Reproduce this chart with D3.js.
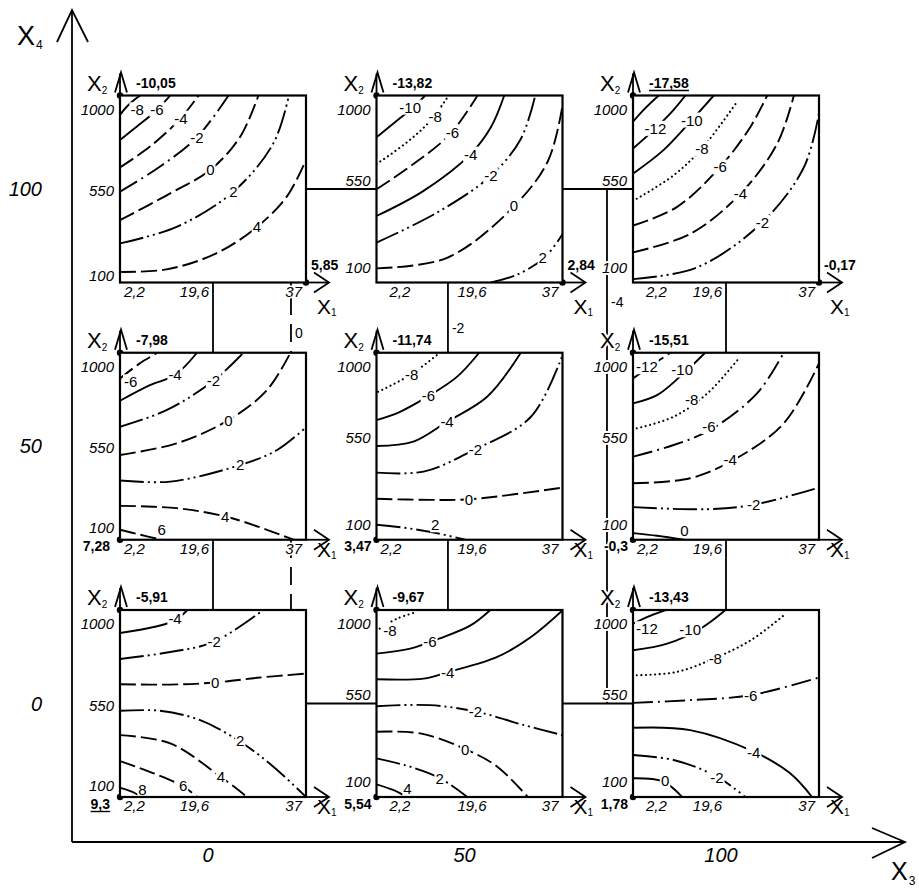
<!DOCTYPE html>
<html><head><meta charset="utf-8">
<script src="https://cdn.jsdelivr.net/npm/d3@7"></script>
<style>
body{margin:0;background:#fff;}
svg{display:block;font-family:"Liberation Sans",Arial,sans-serif;}
</style></head><body>
<svg id="chart" width="919" height="889"></svg>
<script>
// ---------------- DATA ----------------
const X3Values = [0, 50, 100];
const X4Values = [100, 50, 0];
const X3TickLabels = ["0", "50", "100"];
const X4TickLabels = ["100", "50", "0"];
const X1Ticks = [2.2, 19.6, 37];
const X1TickLabels = ["2,2", "19,6", "37"];
const X2Ticks = [100, 550, 1000];
const X2TickLabels = ["100", "550", "1000"];

// panels, row-major (X4 = 100, 50, 0; X3 = 0, 50, 100)
const panelX3 = [0, 50, 100, 0, 50, 100, 0, 50, 100];
const panelX4 = [100, 100, 100, 50, 50, 50, 0, 0, 0];
const panelMinValue = [-10.05, -13.82, -17.58, -7.98, -11.74, -15.51, -5.91, -9.67, -13.43];
const panelMinX1 = [2.2, 2.2, 2.2, 2.2, 2.2, 2.2, 2.2, 2.2, 2.2];
const panelMinX2 = [1000, 1000, 1000, 1000, 1000, 1000, 1000, 1000, 1000];
const panelMaxValue = [5.85, 2.84, -0.17, 7.28, 3.47, -0.3, 9.3, 5.54, 1.78];
const panelMaxX1 = [37, 37, 37, 2.2, 2.2, 2.2, 2.2, 2.2, 2.2];
const panelMaxX2 = [100, 100, 100, 100, 100, 100, 100, 100, 100];

// contour lines: points (X1, X2), label anchor (X1, X2)
const contoursP0 = [
  {level:-8, pts:[[2.2,907],[3.5,947],[5.0,982],[6.0,1000]], lab:[5.4,931]},
  {level:-6, pts:[[2.2,786],[5.3,850],[8.8,923],[11.6,1000]], lab:[9.1,934]},
  {level:-4, pts:[[2.2,654],[7.8,754],[13.4,886],[16.9,1000]], lab:[13.6,891]},
  {level:-2, pts:[[2.2,537],[9.7,658],[16.6,799],[22.5,1000]], lab:[16.6,799]},
  {level:0,  pts:[[2.2,400],[11.6,529],[19.1,642],[24.7,802],[28.1,1000]], lab:[19.1,642]},
  {level:2,  pts:[[2.2,288],[12.8,368],[23.4,537],[30.9,770],[33.8,1000]], lab:[23.4,537]},
  {level:4,  pts:[[2.2,151],[10.9,163],[20.2,240],[27.7,365],[33.4,513],[37,690]], lab:[27.8,368]}
];
const contoursP1 = [
  {level:-10, pts:[[2.2,799],[6.0,879],[8.8,936],[11.3,1000]], lab:[8.5,944]},
  {level:-8, pts:[[2.2,670],[7.9,775],[12.3,879],[15.7,1000]], lab:[13.2,899]},
  {level:-6, pts:[[2.2,549],[9.1,670],[16.0,815],[21.1,1000]], lab:[16.4,823]},
  {level:-4, pts:[[2.2,420],[11.0,541],[19.8,718],[23.6,847],[26.1,1000]], lab:[19.8,718]},
  {level:-2, pts:[[2.2,292],[13.5,436],[23.6,614],[29.2,791],[31.9,1000]], lab:[23.6,614]},
  {level:0,  pts:[[2.2,168],[15.4,219],[27.7,461],[34.3,686],[37,952]], lab:[27.9,469]},
  {level:2,  pts:[[23.6,100],[28.6,139],[33.6,219],[37,332]], lab:[33.3,219]}
];
const contoursP2 = [
  {level:-14, pts:[[2.2,874],[4.5,939],[7.0,1000]], lab:null},
  {level:-12, pts:[[2.2,745],[6.4,842],[9.8,931],[12.0,1000]], lab:[6.4,842]},
  {level:-10, pts:[[2.2,624],[7.9,737],[13.2,882],[17.3,1000]], lab:[13.2,882]},
  {level:-8, pts:[[2.9,503],[9.8,616],[15.1,745],[21.7,971]], lab:[15.1,745]},
  {level:-6, pts:[[2.2,374],[10.4,463],[18.5,656],[24.2,850],[27.3,1000]], lab:[18.5,656]},
  {level:-4, pts:[[2.2,245],[12.9,334],[22.3,527],[29.2,769],[32.3,1000]], lab:[22.3,527]},
  {level:-2, pts:[[2.2,116],[14.2,173],[26.4,390],[34.2,656],[37,915]], lab:[26.4,390]}
];
const contoursP3 = [
  {level:-6, pts:[[2.2,876],[5.9,949],[9.2,1000]], lab:[4.2,860]},
  {level:-4, pts:[[2.2,769],[7.8,844],[12.5,893],[16.6,1000]], lab:[12.5,893]},
  {level:-2, pts:[[2.2,644],[10.9,724],[19.7,865],[25.3,1000]], lab:[19.7,865]},
  {level:0,  pts:[[2.2,508],[12.8,564],[22.5,676],[29.7,820],[34.1,1000]], lab:[22.5,676]},
  {level:2,  pts:[[2.2,385],[11.6,380],[24.7,460],[31.6,532],[37,641]], lab:[24.7,460]},
  {level:4,  pts:[[2.2,263],[12.8,252],[21.9,212],[29.7,148],[34.7,100]], lab:[21.9,212]},
  {level:6,  pts:[[2.2,148],[6.0,124],[10.0,100]], lab:[10.0,148]}
];
const contoursP4 = [
  {level:-8, pts:[[2.5,812],[8.5,893],[13.5,989]], lab:[8.8,893]},
  {level:-6, pts:[[2.2,676],[6.6,716],[12.2,796],[17.3,885],[21.4,1000]], lab:[11.9,796]},
  {level:-4, pts:[[2.2,551],[9.1,572],[15.4,668],[22.9,788],[29.2,1000]], lab:[15.4,668]},
  {level:-2, pts:[[2.2,423],[11.0,428],[20.4,532],[31.1,692],[37,989]], lab:[20.7,532]},
  {level:0,  pts:[[2.2,297],[12.2,292],[19.8,295],[37,351]], lab:[19.5,295]},
  {level:2,  pts:[[2.2,172],[7.9,156],[12.9,135],[18.8,100]], lab:[13.2,172]}
];
const contoursP5 = [
  {level:-12, pts:[[2.2,876],[5.8,941],[9.2,1000]], lab:[4.8,933]},
  {level:-10, pts:[[2.2,756],[6.7,796],[11.0,885],[15.7,1000]], lab:[11.4,917]},
  {level:-8, pts:[[2.9,636],[9.8,692],[16.1,804],[22.0,973]], lab:[13.2,773]},
  {level:-6, pts:[[2.2,500],[9.8,556],[16.6,628],[25.4,804],[30.4,1000]], lab:[16.4,645]},
  {level:-4, pts:[[2.2,372],[12.9,396],[21.0,484],[30.4,660],[37,949]], lab:[20.4,484]},
  {level:-2, pts:[[2.2,257],[16.0,247],[24.7,268],[37,351]], lab:[24.8,268]},
  {level:0,  pts:[[2.2,132],[6.7,119],[11.7,100]], lab:[11.8,145]}
];
const contoursP6 = [
  {level:-4, pts:[[2.2,889],[8.5,918],[12.5,950],[14.8,1000]], lab:[12.5,958]},
  {level:-2, pts:[[2.2,764],[11.6,798],[19.7,846],[29.0,1000]], lab:[19.8,846]},
  {level:0,  pts:[[2.2,643],[11.6,641],[20.0,651],[28.4,675],[37,694]], lab:[20.0,651]},
  {level:2,  pts:[[2.2,515],[9.7,515],[17.2,470],[24.7,366],[30.9,246],[37,100]], lab:[24.7,374]},
  {level:4,  pts:[[2.2,398],[11.6,358],[21.0,198],[26.0,100]], lab:[21.1,198]},
  {level:6,  pts:[[2.2,273],[8.5,214],[14.1,150],[16.6,100]], lab:[14.0,153]},
  {level:8,  pts:[[2.2,145],[4.4,126],[6.3,100]], lab:[6.4,137]}
];
const contoursP7 = [
  {level:-8, pts:[[2.8,910],[6.0,958],[9.7,990]], lab:[4.7,902]},
  {level:-6, pts:[[2.2,790],[8.5,814],[13.9,862],[19.8,926],[23.5,1000]], lab:[12.2,846]},
  {level:-4, pts:[[2.2,667],[11.0,670],[15.7,702],[24.8,774],[31.1,870],[37,998]], lab:[15.5,697]},
  {level:-2, pts:[[2.2,537],[12.2,542],[21.0,510],[29.8,446],[37,398]], lab:[20.7,510]},
  {level:0,  pts:[[2.2,414],[10.4,406],[18.5,334],[24.8,246],[30.5,100]], lab:[18.8,330]},
  {level:2,  pts:[[2.2,286],[8.5,246],[14.1,190],[19.2,100]], lab:[14.0,190]},
  {level:4,  pts:[[2.2,161],[5.3,134],[7.9,100]], lab:[8.0,140]}
];
const contoursP8 = [
  {level:-12, pts:[[2.2,934],[4.8,966],[8.3,1000]], lab:[4.8,910]},
  {level:-10, pts:[[2.2,806],[8.6,838],[14.8,910],[19.5,1000]], lab:[12.9,905]},
  {level:-8, pts:[[2.9,686],[10.4,702],[17.3,766],[24.2,854],[30.4,974]], lab:[17.6,766]},
  {level:-6, pts:[[2.2,553],[12.9,566],[24.2,590],[37,675]], lab:[24.2,590]},
  {level:-4, pts:[[2.2,433],[12.9,422],[24.8,318],[31.6,214],[35.7,100]], lab:[24.8,314]},
  {level:-2, pts:[[2.2,302],[9.8,278],[17.9,198],[23.2,100]], lab:[17.9,195]},
  {level:0,  pts:[[2.2,190],[7.9,174],[11.4,100]], lab:[8.2,178]}
];
const panelContours = [contoursP0, contoursP1, contoursP2, contoursP3, contoursP4,
                       contoursP5, contoursP6, contoursP7, contoursP8];

// outer level: design frame and isolines in the (X3, X4) plane
const designFrameX3 = [0, 100, 100, 0, 0];
const designFrameX4 = [100, 100, 0, 0, 100];
const outerContourLevel = [0, -2, -4];
const outerContourX3 = [15.2, 45.8, 76.8];
const outerContourLabelX4 = [72, 73, 78];

// ---------------- STYLES ----------------
const panelStyles = [
  ["s","s","d","dd","d","ddd","d"],
  ["s","o","d","s","ddd","d","ddd"],
  ["s","s","s","o","d","d","ddd"],
  ["d","s","ddd","d","ddd","d","d"],
  ["o","s","s","ddd","d","ddd"],
  ["d","s","o","dd","d","ddd","s"],
  ["s","ddd","d","ddd","d","d","s"],
  ["o","s","s","ddd","d","ddd","s"],
  ["s","s","o","dd","s","ddd","s"]
];
const outerStyles = ["od", "s", "s"];
const dashes = {s:null, d:"16,5", dd:"20,5,2,5", ddd:"24,4,2,4,2,4", o:"0.1,4.5", od:"18,9"};

// ---------------- DRAW ----------------
const svg = d3.select("#chart");
const X3s = d3.scaleLinear().domain([0, 100]).range([213, 726]);
const X4s = d3.scaleLinear().domain([0, 100]).range([703.5, 189]);
const PW = 186, PH = 187;
const fmt = v => String(v).replace(".", ",");
const globalMin = d3.min(panelMinValue), globalMax = d3.max(panelMaxValue);

function halo(sel, w) {
  return sel.attr("stroke", "#fff").attr("stroke-width", w || 4)
    .attr("stroke-linejoin", "round").attr("paint-order", "stroke");
}
function styleLine(sel, st, w) {
  sel.attr("fill", "none").attr("stroke", "#000").attr("stroke-width", w || 1.9);
  if (dashes[st]) sel.attr("stroke-dasharray", dashes[st]);
  if (st === "o") sel.attr("stroke-linecap", "round").attr("stroke-width", 2.1);
  return sel;
}

// outer axes
const ax = svg.append("g").attr("stroke", "#000").attr("stroke-width", 1.8).attr("fill", "none");
ax.append("path").attr("d", "M72,842 L72,10");
ax.append("path").attr("d", "M57,42 L72,10 L88,42");
ax.append("path").attr("d", "M72,842 L905,842");
ax.append("path").attr("d", "M872,828 L905,842 L872,858");

const axLabel = (x, y, main, sub, size, subSize, dy) => {
  const t = svg.append("text").attr("x", x).attr("y", y).attr("font-size", size);
  t.append("tspan").text(main);
  t.append("tspan").attr("font-size", subSize).attr("dy", dy).attr("dx", 1).text(sub);
  return t;
};
axLabel(17, 45, "X", "4", 27, 12, 4);
axLabel(891, 880, "X", "3", 25, 12, 5);

X4Values.forEach((v, i) => {
  svg.append("text").attr("x", 42).attr("y", X4s(v) + 7).attr("text-anchor", "end")
    .attr("font-size", 20).attr("font-style", "italic").text(X4TickLabels[i]);
});
X3Values.forEach((v, i) => {
  svg.append("text").attr("x", X3s(v) - 5).attr("y", 862).attr("text-anchor", "middle")
    .attr("font-size", 20).attr("font-style", "italic").text(X3TickLabels[i]);
});

// design frame + outer isolines (behind panels)
const outerLine = d3.line().x(d => X3s(d[0])).y(d => X4s(d[1]));
svg.append("path").attr("d", outerLine(designFrameX3.map((x, i) => [x, designFrameX4[i]])))
  .call(styleLine, "s", 1.8);
outerContourX3.forEach((x3, i) => {
  svg.append("path").attr("d", outerLine([[x3, 100], [x3, 0]])).call(styleLine, outerStyles[i], 1.8);
});

// panels
const curve = d3.curveCatmullRom.alpha(0.5);
const labelLayer = svg.append("g");
panelX3.forEach((x3, p) => {
  const col = X3Values.indexOf(x3), row = X4Values.indexOf(panelX4[p]);
  const cx = X3s(x3), cy = X4s(panelX4[p]);
  const left = cx - PW / 2, right = left + PW, top = cy - PH / 2, bottom = top + PH;
  const x1 = d3.scaleLinear().domain([2.2, 37]).range([left, right]);
  const x2 = d3.scaleLinear().domain([100, 1000]).range([bottom, top]);
  const g = svg.append("g");
  g.append("rect").attr("x", left).attr("y", top).attr("width", PW).attr("height", PH).attr("fill", "#fff");
  const cid = "clip" + p;
  g.append("clipPath").attr("id", cid).append("rect")
    .attr("x", left).attr("y", top).attr("width", PW).attr("height", PH);
  const cg = g.append("g").attr("clip-path", `url(#${cid})`);
  const line = d3.line().x(d => x1(d[0])).y(d => x2(d[1])).curve(curve);
  panelContours[p].forEach((c, k) => {
    cg.append("path").attr("d", line(c.pts)).call(styleLine, panelStyles[p][k], 1.9);
  });
  panelContours[p].forEach(c => {
    if (!c.lab) return;
    const t = cg.append("text").attr("x", x1(c.lab[0])).attr("y", x2(c.lab[1]))
      .attr("text-anchor", "middle").attr("dominant-baseline", "central")
      .attr("font-size", 15).text(String(c.level));
    const b = t.node().getBBox();
    cg.insert("rect", () => t.node()).attr("x", b.x - 1).attr("y", b.y + 1)
      .attr("width", b.width + 2).attr("height", b.height - 2).attr("fill", "#fff");
  });
  // frame
  g.append("rect").attr("x", left).attr("y", top).attr("width", PW).attr("height", PH)
    .attr("fill", "none").attr("stroke", "#000").attr("stroke-width", 2.2);
  // X2 axis arrow
  g.append("path").attr("d", `M${left},${top} L${left},${top - 22}`).attr("stroke", "#000").attr("stroke-width", 1.8);
  g.append("path").attr("d", `M${left - 5},${top - 3} L${left + 1},${top - 23} L${left + 7},${top - 3}`)
    .attr("stroke", "#000").attr("stroke-width", 1.8).attr("fill", "none");
  // X1 axis arrow
  g.append("path").attr("d", `M${right},${bottom} L${right + 22},${bottom}`).attr("stroke", "#000").attr("stroke-width", 1.8);
  g.append("path").attr("d", `M${right + 8},${bottom - 10} L${right + 23},${bottom} L${right + 8},${bottom + 10}`)
    .attr("stroke", "#000").attr("stroke-width", 1.8).attr("fill", "none");

  // labels layer (with halos)
  const L = labelLayer;
  // X2 ticks
  const yOff = col === 0 ? [(row === 0 ? -2 : -6.5), 7, 19] : [-10, -3.5, 19];
  X2Ticks.forEach((v, i) => {
    L.append("text").attr("x", left - 6).attr("y", x2(v) + yOff[i]).attr("text-anchor", "end")
      .attr("font-size", 15).attr("font-style", "italic").text(X2TickLabels[i]).call(halo, 4);
  });
  // X1 ticks
  X1Ticks.forEach((v, i) => {
    let x = x1(v), anchor = "end";
    if (i === 0) { anchor = "start"; x += (col === 0 || row === 1) ? 4 : 13; }
    else if (i === 1) { if (col === 1) { anchor = "start"; x -= 12; } else x -= 4; }
    else x -= 4;
    L.append("text").attr("x", x).attr("y", bottom + 14).attr("text-anchor", anchor)
      .attr("font-size", 15).attr("font-style", "italic").text(X1TickLabels[i]).call(halo, 3);
  });
  // axis names
  const xl2 = L.append("text").attr("x", left - 33).attr("y", top - 5).attr("font-size", 22);
  xl2.append("tspan").text("X");
  xl2.append("tspan").attr("font-size", 10).attr("dy", 3).text("2");
  xl2.call(halo, 4);
  const xl1 = L.append("text").attr("x", right + 11).attr("y", row === 0 ? bottom + 31 : bottom + 17).attr("font-size", 21);
  xl1.append("tspan").text("X");
  xl1.append("tspan").attr("font-size", 10).attr("dy", 2).text("1");
  xl1.call(halo, 4);

  // extreme dots and values
  [[panelMinX1[p], panelMinX2[p]], [panelMaxX1[p], panelMaxX2[p]]].forEach(d => {
    L.append("circle").attr("cx", x1(d[0])).attr("cy", x2(d[1])).attr("r", 3.2).attr("fill", "#000");
  });
  const tMin = L.append("text").attr("x", left + 16).attr("y", top - 8)
    .attr("font-size", 14).attr("font-weight", "bold").text(fmt(panelMinValue[p])).call(halo, 4);
  let tMax;
  if (panelMaxX1[p] === 37) {
    tMax = L.append("text").attr("x", right + 5).attr("y", bottom - 13);
  } else {
    tMax = L.append("text").attr("x", left - (col === 0 ? 10 : 5)).attr("y", bottom + 11.5).attr("text-anchor", "end");
  }
  tMax.attr("font-size", 14).attr("font-weight", "bold").text(fmt(panelMaxValue[p])).call(halo, 4);
  [[tMin, panelMinValue[p] === globalMin], [tMax, panelMaxValue[p] === globalMax]].forEach(([t, u]) => {
    if (!u) return;
    const b = t.node().getBBox();
    L.append("line").attr("x1", b.x).attr("x2", b.x + b.width)
      .attr("y1", +t.attr("y") + 3).attr("y2", +t.attr("y") + 3)
      .attr("stroke", "#000").attr("stroke-width", 1.4);
  });
});

// outer isoline labels
outerContourX3.forEach((x3, i) => {
  labelLayer.append("text").attr("x", X3s(x3) + 4).attr("y", X4s(outerContourLabelX4[i]))
    .attr("dominant-baseline", "central").attr("font-size", 14).text(String(outerContourLevel[i]));
});
</script></body></html>
